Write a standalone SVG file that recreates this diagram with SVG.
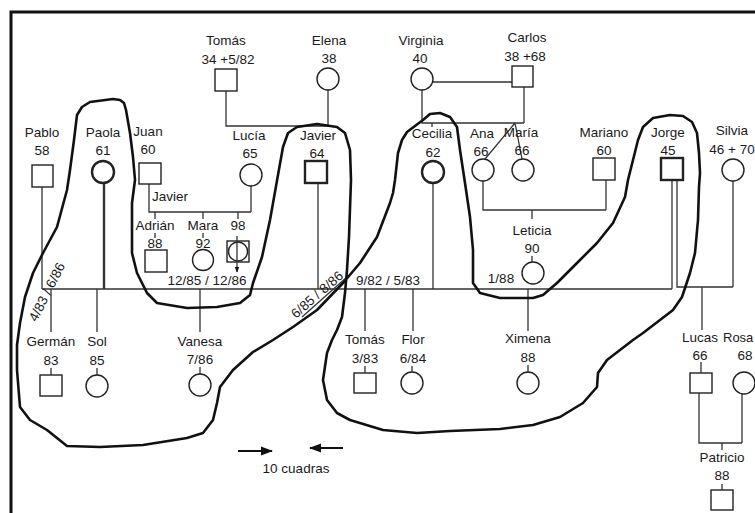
<svg xmlns="http://www.w3.org/2000/svg" width="755" height="513" viewBox="0 0 755 513">
<defs>
<style>
.t{font-family:"Liberation Sans",Arial,sans-serif;font-size:13.5px;fill:#1a1a1a;text-anchor:middle}
.ln{stroke:#333;stroke-width:1.3;fill:none}
.arr{stroke:#111;stroke-width:2.2;fill:none}
.sym{stroke:#222;stroke-width:1.4;fill:#fff}
.bold{stroke-width:2.4}
.free{stroke:#111;stroke-width:2.6;fill:none;stroke-linejoin:round;stroke-linecap:round}
</style>
<marker id="ah" viewBox="0 0 12 10" refX="11" refY="5" markerWidth="12" markerHeight="10" orient="auto" markerUnits="userSpaceOnUse">
<path d="M0,0.5 L12,5 L0,9.5 z" fill="#111"/>
</marker>
<marker id="ahs" viewBox="0 0 10 10" refX="9" refY="5" markerWidth="6" markerHeight="6" orient="auto" markerUnits="userSpaceOnUse">
<path d="M0,1 L10,5 L0,9 z" fill="#111"/>
</marker>
</defs>
<rect x="0" y="0" width="755" height="513" fill="#fff"/>
<path d="M11 513 V12 H755" stroke="#111" stroke-width="3" fill="none"/>

<g id="connectors">
<path class="ln" d="M226 91 V126 H328 M328 90 V126"/>
<path class="ln" d="M433 82 H512 M422 90 V123 H524 M524 87 V123 M432 123 V127 M515 123 L485 159 M515 123 L522 159"/>
<path class="ln" d="M149 184 V212 H251 M251 186 V212 M155 212 V219 M155 233 V238 M203 212 V219 M203 233 V238 M238 212 V219"/>
<path class="ln" d="M483 181 V210 H606 M606 180 V210 M532 210 V219 M532 256 V262"/>
<path class="ln" d="M42 187 V289 M42 289 H672 M318 183 V289 M433 183 V289 M672 180 V289"/>
<path class="ln bold" d="M104 183 V289"/>
<path class="ln" d="M677 180 V287 H733 M733 181 V287 M702 287 V330 M701 362 V373"/>
<path class="ln" d="M51 289 V332 M51 368 V375 M97 289 V332 M97 368 V375 M200 289 V332 M200 367 V374 M365 289 V331 M365 366 V373 M413 289 V331 M412 366 V372 M528 289 V331 M528 365 V372"/>
<path class="ln" d="M699 393 V443 H742 M742 394 V443 M722 443 V450 M722 484 V490"/>
<path class="ln" d="M302 317 L347 277"/>
</g>

<g id="n-tomas-sr"><text class="t" x="226" y="45">Tomás</text><text class="t" x="228" y="64">34 +5/82</text><rect class="sym" x="215" y="69" width="22" height="22"/></g>
<g id="n-elena"><text class="t" x="329" y="45">Elena</text><text class="t" x="329" y="63">38</text><circle class="sym" cx="328" cy="79" r="11"/></g>
<g id="n-virginia"><text class="t" x="421" y="45">Virginia</text><text class="t" x="420" y="63">40</text><circle class="sym" cx="422" cy="79" r="11"/></g>
<g id="n-carlos"><text class="t" x="527" y="42">Carlos</text><text class="t" x="525" y="61">38 +68</text><rect class="sym" x="512" y="66" width="21" height="21"/></g>

<g id="n-pablo"><text class="t" x="42" y="137">Pablo</text><text class="t" x="42" y="155">58</text><rect class="sym" x="32" y="165" width="21" height="22"/></g>
<g id="n-paola"><text class="t" x="103" y="137">Paola</text><text class="t" x="103" y="155">61</text><circle class="sym bold" cx="103" cy="172" r="11"/></g>
<g id="n-juan"><text class="t" x="148" y="136">Juan</text><text class="t" x="148" y="154">60</text><rect class="sym" x="139" y="163" width="22" height="21"/><text class="t" x="152" y="201" style="text-anchor:start">Javier</text></g>
<g id="n-lucia"><text class="t" x="249" y="140">Lucía</text><text class="t" x="250" y="158">65</text><circle class="sym" cx="251" cy="175" r="11"/></g>
<g id="n-javier"><text class="t" x="318" y="140">Javier</text><text class="t" x="317" y="158">64</text><rect class="sym bold" x="305" y="161" width="22" height="22"/></g>
<g id="n-cecilia"><text class="t" x="432" y="138">Cecilia</text><text class="t" x="433" y="157">62</text><circle class="sym bold" cx="433" cy="172" r="11"/></g>
<g id="n-ana"><text class="t" x="482" y="138">Ana</text><text class="t" x="481" y="156">66</text><circle class="sym" cx="483" cy="170" r="11"/></g>
<g id="n-maria"><text class="t" x="521" y="137">María</text><text class="t" x="522" y="155">66</text><circle class="sym" cx="523" cy="170" r="11"/></g>
<g id="n-mariano"><text class="t" x="604" y="137">Mariano</text><text class="t" x="604" y="155">60</text><rect class="sym" x="593" y="158" width="22" height="22"/></g>
<g id="n-jorge"><text class="t" x="668" y="137">Jorge</text><text class="t" x="668" y="155">45</text><rect class="sym bold" x="661" y="158" width="22" height="22"/></g>
<g id="n-silvia"><text class="t" x="732" y="135">Silvia</text><text class="t" x="732" y="154">46 + 70</text><circle class="sym" cx="733" cy="170" r="11"/></g>

<g id="n-adrian"><text class="t" x="155" y="230">Adrián</text><text class="t" x="155" y="248">88</text><rect class="sym" x="145" y="250" width="22" height="22"/></g>
<g id="n-mara"><text class="t" x="203" y="230">Mara</text><text class="t" x="203" y="248">92</text><circle class="sym" cx="203" cy="260" r="10.5"/></g>
<g id="n-98"><text class="t" x="238" y="230">98</text><rect class="sym" x="227" y="241" width="22" height="21"/><circle class="sym" cx="238" cy="251.5" r="9.5" fill="none"/><path class="ln" d="M237 236 V272" marker-end="url(#ahs)"/></g>
<g id="n-leticia"><text class="t" x="532" y="235">Leticia</text><text class="t" x="532" y="253">90</text><circle class="sym" cx="533" cy="273" r="11"/></g>

<g id="dates">
<text class="t" x="207" y="285">12/85  /  12/86</text>
<text class="t" x="388" y="285">9/82  /  5/83</text>
<text class="t" x="501" y="283">1/88</text>
<text class="t" x="51" y="294" transform="rotate(-63 51 294)">4/83 / 6/86</text>
<text class="t" x="320" y="298" transform="rotate(-41 320 298)">6/85  /  8/86</text>
</g>

<g id="n-german"><text class="t" x="51" y="346">Germán</text><text class="t" x="51" y="365">83</text><rect class="sym" x="40" y="375" width="22" height="21"/></g>
<g id="n-sol"><text class="t" x="97" y="346">Sol</text><text class="t" x="97" y="365">85</text><circle class="sym" cx="97" cy="386" r="11"/></g>
<g id="n-vanesa"><text class="t" x="200" y="346">Vanesa</text><text class="t" x="200" y="364">7/86</text><circle class="sym" cx="200" cy="385" r="11"/></g>
<g id="n-tomas-jr"><text class="t" x="365" y="344">Tomás</text><text class="t" x="365" y="363">3/83</text><rect class="sym" x="354" y="373" width="22" height="20"/></g>
<g id="n-flor"><text class="t" x="413" y="344">Flor</text><text class="t" x="413" y="363">6/84</text><circle class="sym" cx="412" cy="383" r="11"/></g>
<g id="n-ximena"><text class="t" x="528" y="343">Ximena</text><text class="t" x="528" y="362">88</text><circle class="sym" cx="528" cy="383" r="11"/></g>
<g id="n-lucas"><text class="t" x="700" y="342">Lucas</text><text class="t" x="700" y="360">66</text><rect class="sym" x="690" y="373" width="22" height="20"/></g>
<g id="n-rosa"><text class="t" x="723" y="342" style="text-anchor:start;font-size:13px">Rosa</text><text class="t" x="745" y="360">68</text><circle class="sym" cx="744" cy="383" r="11"/></g>
<g id="n-patricio"><text class="t" x="722" y="462">Patricio</text><text class="t" x="722" y="480">88</text><rect class="sym" x="711" y="490" width="22" height="20"/></g>

<g id="distance">
<path class="arr" d="M238 451 H272" marker-end="url(#ah)"/>
<path class="arr" d="M343 448 H310" marker-end="url(#ah)"/>
<text class="t" x="296" y="473">10 cuadras</text>
</g>

<g id="freehand">
<path class="free" d="M77 115 L82 107 L90 102 L113 99 L120 100 L124 103 L126 110 L130 133 L133 157 L135 180 L132 203 L132 253 L137 273 L147 293 L157 303 L187 308 L217 307 L240 303 L250 295 L253 283 L262 257 L270 220 L278 175 L283 147 L288 133 L297 127 L317 124 L337 127 L345 133 L350 150 L351 180 L349 237 L347 270 L345 293 L342 317 L337 330 L332 340 L327 353 L323 380 L327 400 L337 413 L350 420 L383 430 L417 433 L450 431 L500 429 L533 425 L560 417 L583 403 L597 387 L598 373 L607 360 L633 340 L643 333 L660 320 L673 310 L682 297 L690 273 L695 253 L698 220 L699 187 L700 173 L699 153 L697 133 L692 122 L683 116 L670 115 L653 118 L643 127 L638 140 L633 160 L628 180 L625 197 L613 223 L597 243 L577 263 L557 283 L543 295 L533 298 L500 298 L480 293 L473 283 L473 250 L470 217 L465 183 L460 150 L457 127 L450 117 L440 113 L430 114 L423 120 L407 132 L402 140 L398 153 L395 180 L393 193 L390 203 L377 237 L360 263 L343 283 L317 310 L293 327 L273 340 L253 352 L233 370 L220 387 L217 403 L213 420 L203 433 L187 438 L143 445 L100 447 L67 446 L47 430 L30 420 L20 407 L17 370 L17 345 L20 323 L25 297 L33 273 L43 253 L57 227 L67 190 L70 170 L74 140 Z"/>
</g>
</svg>
